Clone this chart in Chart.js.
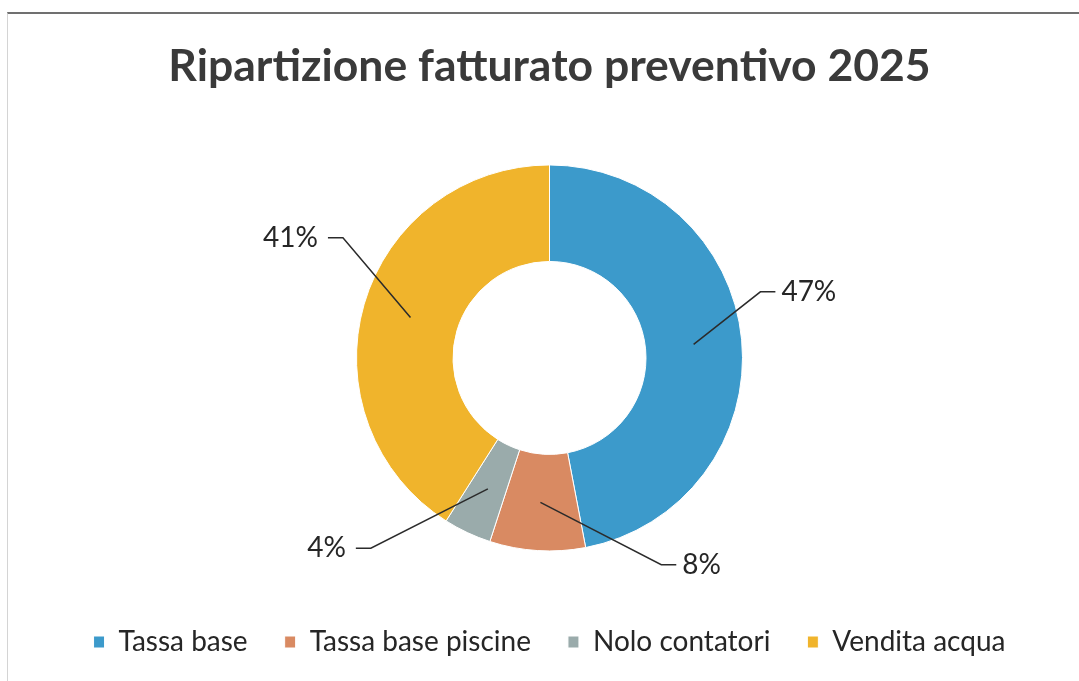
<!DOCTYPE html>
<html><head><meta charset="utf-8">
<script src="https://cdn.jsdelivr.net/npm/chart.js@4.4.1/dist/chart.umd.min.js"></script>
<style>
html,body{margin:0;padding:0;background:#fff;}
#wrap{position:relative;width:1079px;height:681px;overflow:hidden;}
#frame{position:absolute;left:7px;top:12px;right:-2px;bottom:-2px;border-top:2px solid #707070;border-left:1px solid #d4d4d4;pointer-events:none;}
canvas{position:absolute;left:0;top:0;}
</style></head><body>
<div id="wrap"><canvas id="c" width="1079" height="681"></canvas><div id="frame"></div></div>
<script>
const categories = ['Tassa base', 'Tassa base piscine', 'Nolo contatori', 'Vendita acqua'];
const shares = [47, 8, 4, 41];
const percentLabels = ['47%', '8%', '4%', '41%'];
const sliceColors = ['#3c9acb', '#d98a62', '#9aabab', '#f0b42c'];
// leader line styling: angular shift (deg) and extra radius of the elbow beyond the ring
const leaderStyle = [
  {shift: -12, extra: 28},
  {shift: -32, extra: 42},
  {shift: 18, extra: 68},
  {shift: 14, extra: 46}
];

const FONT = 'Lato, "Open Sans", "DejaVu Sans", sans-serif';

const leaderPlugin = {
  id: 'leaders',
  afterDatasetsDraw(chart) {
    const ctx = chart.ctx;
    const meta = chart.getDatasetMeta(0);
    ctx.save();
    meta.data.forEach((arc, i) => {
      const p = arc.getProps(['x','y','startAngle','endAngle','innerRadius','outerRadius'], true);
      const mid = (p.startAngle + p.endAngle) / 2;
      const r0 = (p.innerRadius + p.outerRadius) / 2;
      const ax = p.x + Math.cos(mid) * r0, ay = p.y + Math.sin(mid) * r0;
      const st = leaderStyle[i];
      const a2 = mid + st.shift * Math.PI / 180;
      const r1 = p.outerRadius + st.extra;
      const ex = p.x + Math.cos(a2) * r1, ey = p.y + Math.sin(a2) * r1;
      const side = Math.cos(a2) >= 0 ? 1 : -1;
      const hx = ex + side * 15;
      ctx.beginPath();
      ctx.moveTo(ax, ay);
      ctx.lineTo(ex, ey);
      ctx.lineTo(hx, ey);
      ctx.strokeStyle = '#2b2b2b';
      ctx.lineWidth = 1.5;
      ctx.stroke();
      ctx.font = '28px ' + FONT;
      ctx.fillStyle = '#262626';
      ctx.textBaseline = 'middle';
      ctx.textAlign = side > 0 ? 'left' : 'right';
      ctx.fillText(percentLabels[i], hx + side * (side > 0 ? 6 : 10), ey);
    });
    ctx.restore();
  }
};

new Chart(document.getElementById('c'), {
  type: 'doughnut',
  data: {
    labels: categories,
    datasets: [{
      data: shares,
      backgroundColor: sliceColors,
      borderColor: '#ffffff',
      borderWidth: 1,
      radius: 193,
      hoverOffset: 0
    }]
  },
  options: {
    responsive: false,
    animation: false,
    devicePixelRatio: 1,
    cutout: '50%',
    layout: {padding: {left: 20, right: 0, top: 0, bottom: 15}},
    plugins: {
      tooltip: {enabled: false},
      title: {
        display: true,
        text: 'Ripartizione fatturato preventivo 2025',
        color: '#3a3a3a',
        font: {family: FONT, size: 44.5, weight: 'bold'},
        padding: {top: 40, bottom: 31.5}
      },
      legend: {
        position: 'bottom',
        labels: {
          boxWidth: 11,
          boxHeight: 12,
          padding: 37,
          color: '#262626',
          font: {family: FONT, size: 28}
        }
      }
    }
  },
  plugins: [leaderPlugin]
});
</script>
</body></html>
